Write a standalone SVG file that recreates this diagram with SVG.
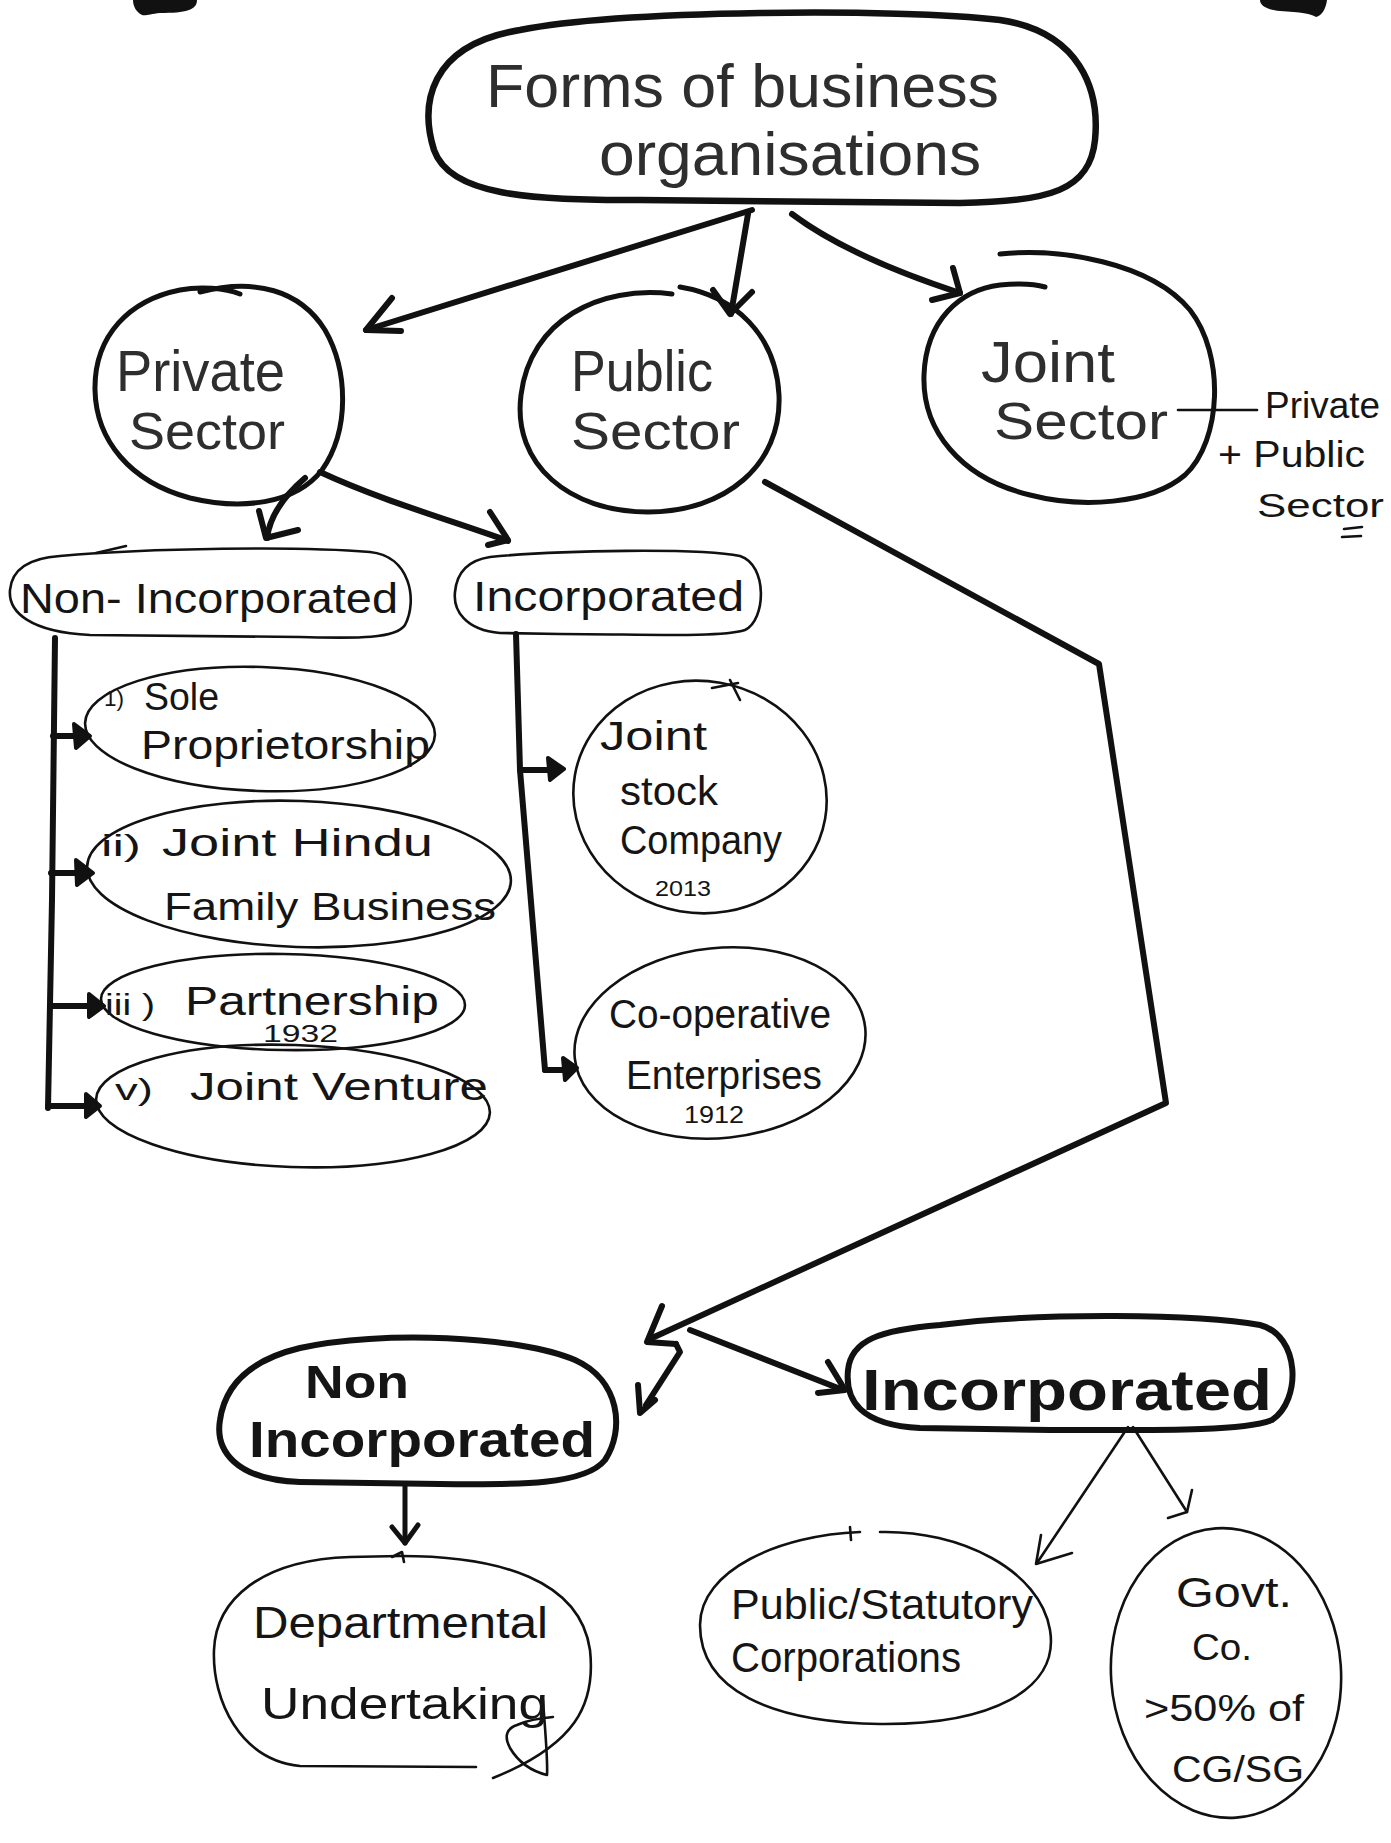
<svg xmlns="http://www.w3.org/2000/svg" width="1391" height="1843" viewBox="0 0 1391 1843">
  <style>
    .bg { fill: #ffffff; }
    .hw { font-family: "Liberation Sans Narrow", "Liberation Sans", "DejaVu Sans", sans-serif; fill: #151515; }
    .mk { fill: #2e2e2e; }
    .bold { font-weight: bold; }
    .heavy { fill: none; stroke: #111; stroke-width: 6.5; stroke-linecap: round; stroke-linejoin: round; }
    .mid { fill: none; stroke: #111; stroke-width: 5; stroke-linecap: round; stroke-linejoin: round; }
    .thin { fill: none; stroke: #111; stroke-width: 2.6; stroke-linecap: round; stroke-linejoin: round; }
    .line { fill: none; stroke: #111; stroke-width: 6; stroke-linecap: round; stroke-linejoin: round; }
    .line-thin { fill: none; stroke: #111; stroke-width: 2.6; stroke-linecap: round; stroke-linejoin: round; }
    .solid-head { fill: #111; stroke: #111; stroke-width: 4; stroke-linejoin: round; }
  </style>

  <rect class="bg" x="0" y="0" width="1391" height="1843"/>

  <!-- page edge marks along the top -->
  <path d="M133,0 L197,0 C197,10 186,13 160,13 C150,14 146,16 142,15 C136,12 133,6 133,0 Z" fill="#111"/>
  <path d="M1260,0 L1327,0 C1326,8 1322,16 1316,17 C1312,14 1300,12 1280,11 C1268,10 1260,6 1260,0 Z" fill="#111"/>

  <!-- root -->
  <g id="n-root">
    <path class="heavy" d="M520,30 C620,10 900,8 1000,20 C1080,32 1100,90 1095,140 C1090,190 1050,202 960,203 L640,200 C530,200 450,196 434,150 C420,105 428,45 520,30 Z"/>
    <text class="hw mk" x="486" y="107" font-size="62" textLength="513" lengthAdjust="spacingAndGlyphs">Forms of business</text>
    <text class="hw mk" x="599" y="175" font-size="62" textLength="382" lengthAdjust="spacingAndGlyphs">organisations</text>
  </g>

  <!-- sectors -->
  <g id="n-private">
    <path class="mid" d="M200,292 C255,278 300,290 325,330 C348,370 350,430 322,470 C295,505 240,510 190,498 C130,482 96,440 95,390 C94,335 130,300 180,290 C200,286 225,288 240,294"/>
    <text class="hw mk" x="116" y="391" font-size="58" textLength="169" lengthAdjust="spacingAndGlyphs">Private</text>
    <text class="hw mk" x="129" y="449" font-size="52" textLength="156" lengthAdjust="spacingAndGlyphs">Sector</text>
  </g>

  <g id="n-public">
    <path class="mid" d="M672,294 C600,285 530,320 521,395 C512,465 570,512 648,512 C725,512 782,465 779,395 C776,335 735,296 680,287"/>
    <text class="hw mk" x="571" y="391" font-size="58" textLength="142" lengthAdjust="spacingAndGlyphs">Public</text>
    <text class="hw mk" x="571" y="449" font-size="52" textLength="169" lengthAdjust="spacingAndGlyphs">Sector</text>
  </g>

  <g id="n-joint">
    <path class="mid" d="M1000,254 C1060,248 1150,262 1190,310 C1225,355 1222,440 1185,475 C1150,505 1080,508 1030,495 C960,478 922,430 924,375 C926,320 960,290 1000,285 C1020,283 1035,284 1045,287"/>
    <text class="hw mk" x="981" y="382" font-size="58" textLength="134" lengthAdjust="spacingAndGlyphs">Joint</text>
    <text class="hw mk" x="994" y="439" font-size="52" textLength="174" lengthAdjust="spacingAndGlyphs">Sector</text>
  </g>

  <g id="n-joint-note">
    <text class="hw" x="1265" y="418" font-size="36" textLength="115" lengthAdjust="spacingAndGlyphs">Private</text>
    <text class="hw" x="1218" y="467" font-size="36" textLength="147" lengthAdjust="spacingAndGlyphs">+ Public</text>
    <text class="hw" x="1257" y="517" font-size="34" textLength="127" lengthAdjust="spacingAndGlyphs">Sector</text>
    <path class="line-thin" d="M1344,529 L1362,527 M1342,537 L1361,536"/>
  </g>

  <!-- private sector branches -->
  <g id="n-pvt-nonincorp">
    <path class="thin" d="M60,556 C150,548 300,546 370,552 C410,556 418,600 405,625 C395,640 350,638 300,637 L90,635 C30,632 8,612 10,590 C12,568 30,558 60,556 Z"/>
    <path class="line-thin" d="M96,553 L126,546"/>
    <text class="hw" x="20" y="613" font-size="42" textLength="378" lengthAdjust="spacingAndGlyphs">Non- Incorporated</text>
  </g>

  <g id="n-pvt-incorp">
    <path class="thin" d="M490,557 C560,550 700,548 740,556 C768,565 766,620 745,630 C720,638 640,634 560,634 L500,633 C465,630 453,610 455,592 C457,570 470,560 490,557 Z"/>
    <text class="hw" x="473" y="611" font-size="42" textLength="271" lengthAdjust="spacingAndGlyphs">Incorporated</text>
  </g>

  <g id="n-sole">
    <ellipse class="thin" cx="260" cy="729" rx="175" ry="62" transform="rotate(2 260 729)"/>
    <text class="hw" x="104" y="706" font-size="22" textLength="20" lengthAdjust="spacingAndGlyphs">1)</text>
    <text class="hw" x="144" y="710" font-size="38" textLength="75" lengthAdjust="spacingAndGlyphs">Sole</text>
    <text class="hw" x="141" y="759" font-size="40" textLength="289" lengthAdjust="spacingAndGlyphs">Proprietorship</text>
  </g>

  <g id="n-jhfb">
    <ellipse class="thin" cx="299" cy="874" rx="212" ry="73" transform="rotate(2 299 874)"/>
    <text class="hw" x="101" y="856" font-size="30" textLength="40" lengthAdjust="spacingAndGlyphs">ii)</text>
    <text class="hw" x="162" y="856" font-size="38" textLength="271" lengthAdjust="spacingAndGlyphs">Joint  Hindu</text>
    <text class="hw" x="164" y="920" font-size="38" textLength="332" lengthAdjust="spacingAndGlyphs">Family  Business</text>
  </g>

  <g id="n-partnership">
    <ellipse class="thin" cx="283" cy="1002" rx="182" ry="48" transform="rotate(1 283 1002)"/>
    <text class="hw" x="105" y="1015" font-size="30" textLength="50" lengthAdjust="spacingAndGlyphs">iii )</text>
    <text class="hw" x="185" y="1015" font-size="40" textLength="254" lengthAdjust="spacingAndGlyphs">Partnership</text>
    <text class="hw" x="263" y="1042" font-size="24" textLength="75" lengthAdjust="spacingAndGlyphs">1932</text>
  </g>

  <g id="n-jv">
    <ellipse class="thin" cx="293" cy="1106" rx="197" ry="61" transform="rotate(2 293 1106)"/>
    <text class="hw" x="115" y="1100" font-size="30" textLength="38" lengthAdjust="spacingAndGlyphs">v)</text>
    <text class="hw" x="190" y="1100" font-size="38" textLength="298" lengthAdjust="spacingAndGlyphs">Joint  Venture</text>
  </g>

  <g id="n-jsc">
    <ellipse class="thin" cx="700" cy="797" rx="127" ry="116" transform="rotate(10 700 797)"/>
    <path class="line-thin" d="M712,688 L738,683 M730,680 L740,700"/>
    <text class="hw" x="600" y="750" font-size="40" textLength="107" lengthAdjust="spacingAndGlyphs">Joint</text>
    <text class="hw" x="620" y="805" font-size="40" textLength="98" lengthAdjust="spacingAndGlyphs">stock</text>
    <text class="hw" x="620" y="854" font-size="40" textLength="162" lengthAdjust="spacingAndGlyphs">Company</text>
    <text class="hw" x="655" y="896" font-size="22" textLength="56" lengthAdjust="spacingAndGlyphs">2013</text>
  </g>

  <g id="n-coop">
    <ellipse class="thin" cx="720" cy="1043" rx="146" ry="95" transform="rotate(-6 720 1043)"/>
    <text class="hw" x="609" y="1028" font-size="40" textLength="222" lengthAdjust="spacingAndGlyphs">Co-operative</text>
    <text class="hw" x="626" y="1089" font-size="40" textLength="196" lengthAdjust="spacingAndGlyphs">Enterprises</text>
    <text class="hw" x="684" y="1123" font-size="24" textLength="60" lengthAdjust="spacingAndGlyphs">1912</text>
  </g>

  <!-- public sector branches -->
  <g id="n-pub-nonincorp">
    <path class="line" d="M300,1348 C380,1330 520,1336 575,1360 C620,1380 625,1430 605,1460 C585,1485 520,1485 440,1484 L300,1482 C235,1480 215,1450 220,1420 C225,1385 250,1360 300,1348 Z"/>
    <text class="hw bold" x="305" y="1398" font-size="46" textLength="104" lengthAdjust="spacingAndGlyphs">Non</text>
    <text class="hw bold" x="249" y="1457" font-size="50" textLength="346" lengthAdjust="spacingAndGlyphs">Incorporated</text>
  </g>

  <g id="n-pub-incorp">
    <path class="line" d="M940,1325 C1040,1312 1200,1314 1260,1325 C1300,1335 1302,1400 1272,1420 C1240,1432 1150,1430 1050,1430 L920,1428 C860,1425 845,1400 848,1370 C851,1340 880,1330 940,1325 Z"/>
    <text class="hw bold" x="862" y="1410" font-size="58" textLength="410" lengthAdjust="spacingAndGlyphs">Incorporated</text>
  </g>

  <g id="n-departmental">
    <path class="thin" d="M476,1767 L300,1766 C240,1760 212,1700 214,1650 C216,1600 260,1560 350,1557 L400,1556 C500,1556 580,1580 590,1650 C596,1705 575,1745 493,1778"/>
    <path class="line-thin" d="M392,1557 L402,1552 L404,1562"/>
    <path class="line-thin" d="M543,1700 C545,1730 548,1760 547,1775 C535,1772 520,1765 510,1748 C503,1735 508,1728 517,1725 C528,1720 540,1718 553,1717"/>
    <text class="hw" x="253" y="1638" font-size="44" textLength="295" lengthAdjust="spacingAndGlyphs">Departmental</text>
    <text class="hw" x="261" y="1719" font-size="44" textLength="287" lengthAdjust="spacingAndGlyphs">Undertaking</text>
  </g>

  <g id="n-statutory">
    <path class="thin" d="M880,1532 C960,1530 1040,1570 1050,1630 C1060,1690 990,1725 880,1724 C770,1722 700,1690 700,1625 C700,1570 780,1535 860,1532"/>
    <path class="line-thin" d="M850,1527 L851,1540"/>
    <text class="hw" x="731" y="1619" font-size="42" textLength="302" lengthAdjust="spacingAndGlyphs">Public/Statutory</text>
    <text class="hw" x="731" y="1672" font-size="42" textLength="230" lengthAdjust="spacingAndGlyphs">Corporations</text>
  </g>

  <g id="n-govt">
    <ellipse class="thin" cx="1226" cy="1673" rx="115" ry="145" transform="rotate(-4 1226 1673)"/>
    <text class="hw" x="1176" y="1607" font-size="42" textLength="116" lengthAdjust="spacingAndGlyphs">Govt.</text>
    <text class="hw" x="1192" y="1660" font-size="36" textLength="60" lengthAdjust="spacingAndGlyphs">Co.</text>
    <text class="hw" x="1144" y="1721" font-size="36" textLength="160" lengthAdjust="spacingAndGlyphs">&gt;50% of</text>
    <text class="hw" x="1172" y="1782" font-size="36" textLength="132" lengthAdjust="spacingAndGlyphs">CG/SG</text>
  </g>

  <!-- connectors -->
  <g id="connectors">
    <!-- root to sectors -->
    <path class="line" d="M752,210 L366,330"/>
    <path class="line" d="M392,298 L366,330 L401,331"/>
    <path class="line" d="M748,214 L731,314"/>
    <path class="line" d="M713,290 L730,314 L752,292"/>
    <path class="line" d="M792,214 C840,250 905,275 960,293"/>
    <path class="line" d="M953,268 L960,293 L932,300"/>

    <!-- private sector to its two kinds -->
    <path class="line" d="M305,478 C285,495 270,515 267,538"/>
    <path class="line" d="M259,511 L266,538 L298,530"/>
    <path class="line" stroke-width="7" d="M320,472 C380,500 450,520 508,541"/>
    <path class="line" stroke-width="7" d="M490,512 L508,540 L488,545"/>

    <!-- non-incorporated list -->
    <path class="line" stroke-width="7" d="M55,638 L52,900 L48,1108"/>
    <path class="line" d="M53,736 L80,736"/>
    <path class="solid-head" d="M74,724 L90,736 L76,748 Z"/>
    <path class="line" d="M51,873 L82,873"/>
    <path class="solid-head" d="M76,860 L93,873 L77,885 Z"/>
    <path class="line" d="M50,1006 L96,1006"/>
    <path class="solid-head" d="M89,994 L104,1006 L89,1017 Z"/>
    <path class="line" d="M48,1106 L92,1106"/>
    <path class="solid-head" d="M86,1094 L100,1106 L86,1117 Z"/>

    <!-- incorporated list -->
    <path class="line" d="M516,634 L520,770 L545,1070"/>
    <path class="line" d="M520,770 L552,770"/>
    <path class="solid-head" d="M548,758 L564,769 L550,780 Z"/>
    <path class="line" d="M545,1070 L566,1070"/>
    <path class="solid-head" d="M563,1058 L577,1068 L565,1080 Z"/>

    <!-- public sector route -->
    <path class="line" d="M765,482 L1099,664 L1166,1103 L652,1338"/>
    <path class="line" stroke-width="8" d="M662,1306 L647,1342 L676,1344"/>
    <path class="line" stroke-width="7" d="M676,1344 L680,1352 L646,1405"/>
    <path class="line" stroke-width="7" d="M638,1385 L640,1413 L655,1400"/>
    <path class="line" stroke-width="7" d="M690,1330 L843,1390"/>
    <path class="line" stroke-width="7" d="M828,1362 L845,1390 L818,1393"/>

    <!-- lower branches -->
    <path class="mid" d="M405,1486 L405,1543"/>
    <path class="mid" d="M392,1527 L405,1543 L418,1525"/>
    <path class="line-thin" d="M1128,1427 L1037,1563"/>
    <path class="line-thin" d="M1041,1535 L1036,1564 L1072,1553"/>
    <path class="line-thin" d="M1133,1427 L1187,1512"/>
    <path class="line-thin" d="M1192,1490 L1187,1512 L1168,1518"/>

    <!-- joint sector note -->
    <path class="line-thin" stroke-width="3" d="M1178,410 L1257,410"/>
  </g>
</svg>
